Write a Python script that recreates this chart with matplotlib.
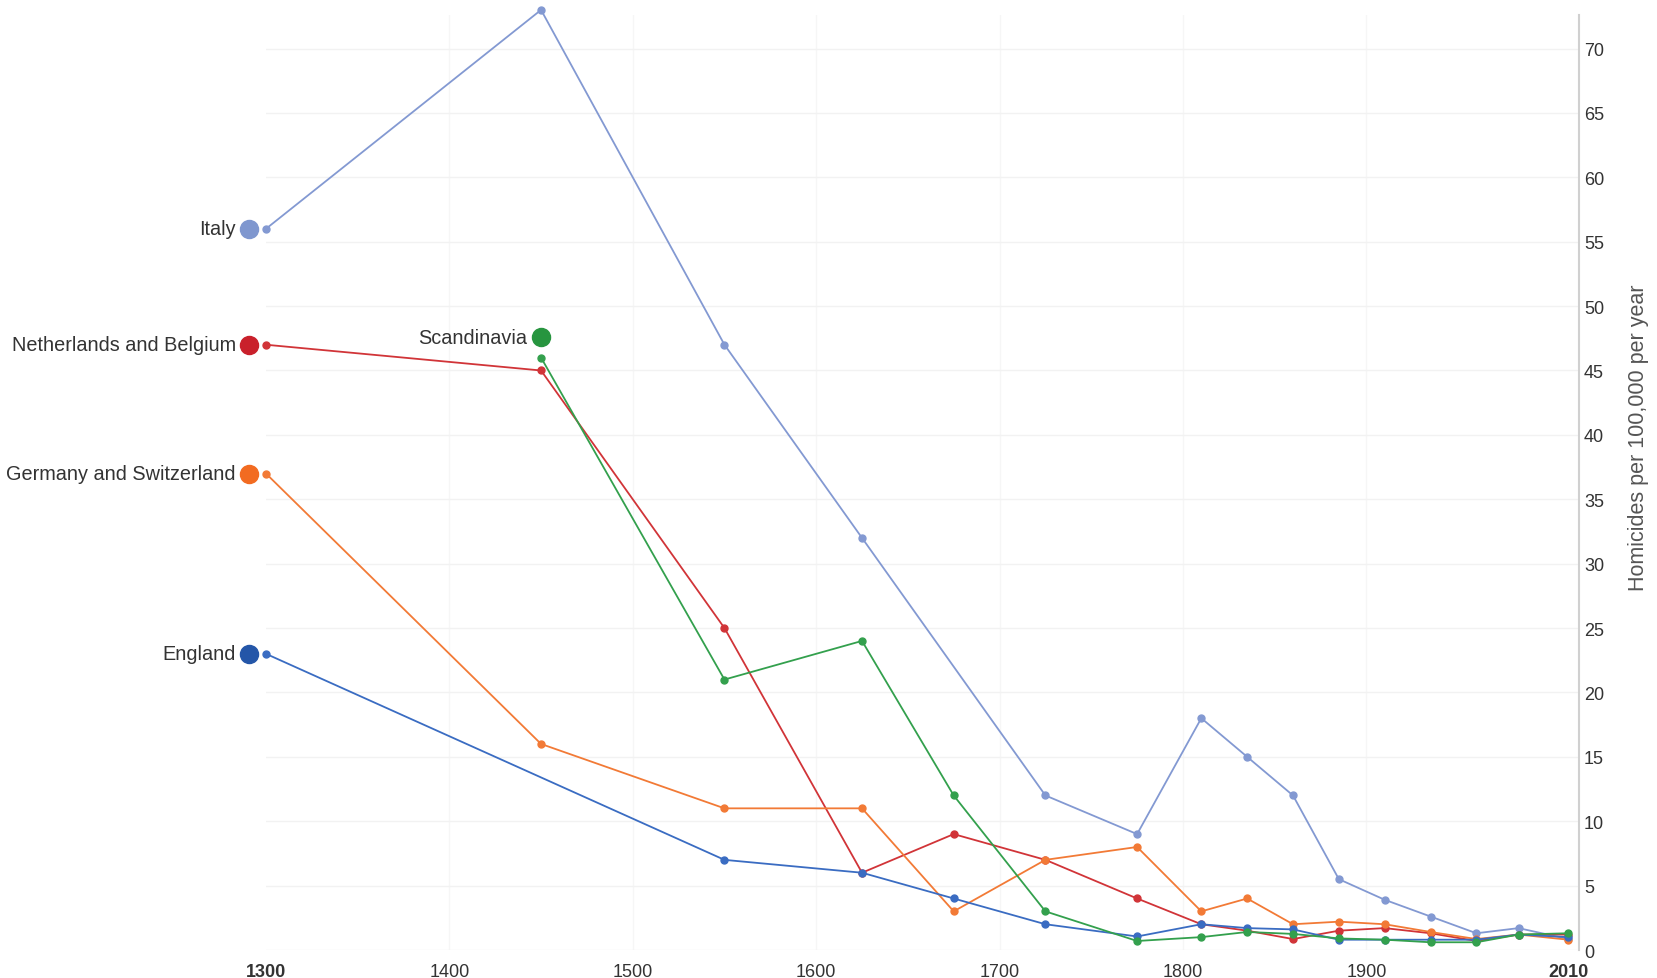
import matplotlib.pyplot as plt

plt.rcParams['font.family'] = ['Liberation Sans', 'DejaVu Sans']

# homicides per 100,000 per year
italy_years = [1300, 1450, 1550, 1625, 1725, 1775, 1810, 1835, 1860, 1885, 1910, 1935, 1960, 1983, 2010]
italy = [56, 73, 47, 32, 12, 9, 18, 15, 12, 5.5, 3.9, 2.6, 1.3, 1.7, 0.85]

late_years = [1810, 1835, 1860, 1885, 1910, 1935, 1960, 1983, 2010]

neth_years = [1300, 1450, 1550, 1625, 1675, 1725, 1775] + late_years
neth = [47, 45, 25, 6, 9, 7, 4, 2.0, 1.5, 0.85, 1.5, 1.7, 1.3, 0.7, 1.2, 1.2]

germ_years = [1300, 1450, 1550, 1625, 1675, 1725, 1775] + late_years
germ = [37, 16, 11, 11, 3, 7, 8, 3.0, 4.0, 2.0, 2.2, 2.0, 1.4, 0.85, 1.2, 0.8]

eng_years = [1300, 1550, 1625, 1675, 1725, 1775] + late_years
eng = [23, 7, 6, 4, 2, 1.05, 2.0, 1.7, 1.6, 0.8, 0.8, 0.8, 0.8, 1.2, 1.0]

scan_years = [1450, 1550, 1625, 1675, 1725, 1775] + late_years
scan = [46, 21, 24, 12, 3, 0.7, 1.0, 1.4, 1.25, 0.9, 0.8, 0.6, 0.6, 1.2, 1.3]

series = [
    ("Italy", italy_years, italy, "#8399d2", "#7f97cf"),
    ("Netherlands and Belgium", neth_years, neth, "#d13438", "#c9202b"),
    ("Germany and Switzerland", germ_years, germ, "#f27a36", "#f26b21"),
    ("England", eng_years, eng, "#3a6cc2", "#2456a8"),
    ("Scandinavia", scan_years, scan, "#33a04d", "#27953f"),
]

fig = plt.figure(figsize=(16.57, 9.79), dpi=100)
ax = fig.add_axes([0.1605, 0.0286, 0.7925, 0.955])

for name, xs, ys, lc, dc in series:
    ax.plot(xs, ys, color=lc, lw=1.3, marker='o', ms=5, mfc=lc, mec=lc,
            clip_on=False, zorder=3)
    # big label dot + name at the series start
    if name == "Scandinavia":
        ly = ys[0] + 1.6
        ax.plot([xs[0]], [ly], 'o', ms=13, color=dc, clip_on=False, zorder=4)
        ax.annotate(name, xy=(xs[0], ly), xytext=(-14, 0), textcoords='offset pixels',
                    ha='right', va='center', fontsize=14.3, color='#333333')
    else:
        ax.plot([xs[0] - 17 / 1.834], [ys[0]], 'o', ms=13, color=dc,
                clip_on=False, zorder=4)
        ax.annotate(name, xy=(xs[0], ys[0]), xytext=(-30, 0), textcoords='offset pixels',
                    ha='right', va='center', fontsize=14.3, color='#333333')

ax.set_xlim(1300, 2016)
ax.set_ylim(0, 72.6)

ax.set_xticks([1300, 1400, 1500, 1600, 1700, 1800, 1900, 2010])
ax.set_xticklabels(["1300", "1400", "1500", "1600", "1700", "1800", "1900", "2010"])
for lab in ax.get_xticklabels():
    if lab.get_text() in ("1300", "2010"):
        lab.set_fontweight('bold')
ax.set_yticks(range(0, 75, 5))

ax.yaxis.tick_right()
ax.yaxis.set_label_position('right')
ax.tick_params(axis='both', length=0, labelsize=13, colors='#333333')
ax.tick_params(axis='x', pad=9)
ax.tick_params(axis='y', pad=3.5)

ax.set_ylabel("Homicides per 100,000 per year", fontsize=15.5, color='#555555',
              rotation=90)
ax.yaxis.set_label_coords(1.037, 0.549)

for s in ['top', 'left', 'bottom']:
    ax.spines[s].set_visible(False)
ax.spines['right'].set_color('#d0d0d0')
ax.spines['right'].set_linewidth(1.5)

ax.grid(True, axis='y', color='#f2f2f2', lw=1)
ax.grid(True, axis='x', color='#f6f6f6', lw=1)
ax.set_axisbelow(True)
# no vertical gridline at the 1300 / 2010 edges
xgl = ax.get_xgridlines()
xgl[0].set_visible(False)
xgl[-1].set_visible(False)

fig.savefig("out.png", dpi=100)
